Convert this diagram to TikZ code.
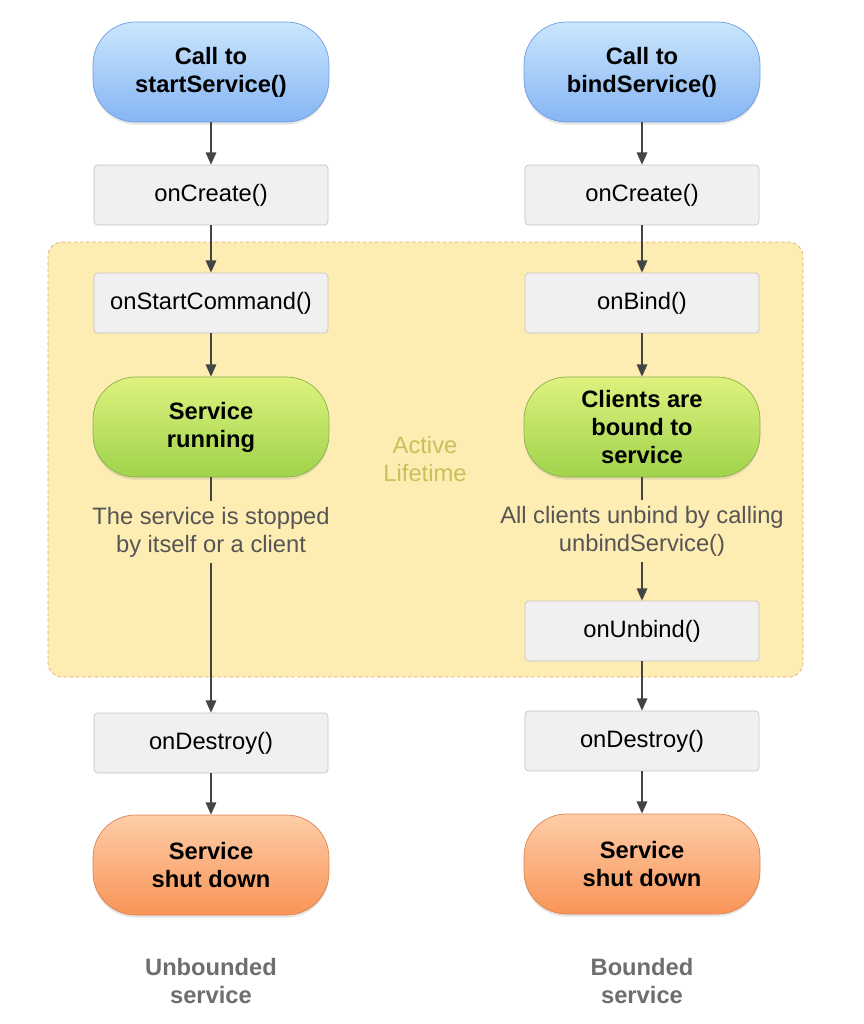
\documentclass[tikz,border=0pt]{standalone}
\usepackage{fontspec}
\setmainfont{Liberation Sans}
\usepackage{tikz}
\usetikzlibrary{arrows.meta, shadows}

\definecolor{arrowgray}{HTML}{444444}
\definecolor{boxfill}{HTML}{F0F0F0}
\definecolor{boxline}{HTML}{C4C4C4}
\definecolor{bluetop}{HTML}{C9E6FC}
\definecolor{bluebot}{HTML}{86B5F4}
\definecolor{blueline}{HTML}{6F9BE2}
\definecolor{greentop}{HTML}{DDF27E}
\definecolor{greenbot}{HTML}{A0D34B}
\definecolor{greenline}{HTML}{8AB04A}
\definecolor{orangetop}{HTML}{FDCDA8}
\definecolor{orangebot}{HTML}{F99456}
\definecolor{orangeline}{HTML}{DE8350}
\definecolor{lifefill}{HTML}{FEEDB3}
\definecolor{lifeline}{HTML}{E6A874}
\definecolor{lifetext}{HTML}{C9C05A}
\definecolor{notegray}{HTML}{555555}
\definecolor{labelgray}{HTML}{6E6E6E}

\begin{document}
\begin{tikzpicture}[x = 0.02cm, y = -0.02cm,
		font = \fontsize{13.5}{16}\selectfont,
		box/.style = {draw = boxline, fill = boxfill, rounded corners = 2pt,
			minimum width = 4.68cm, minimum height = 1.2cm},
		pill/.style = {rounded corners = 0.85cm, minimum width = 4.72cm, minimum height = 2cm,
			align = center, font = \fontsize{13.5}{16}\selectfont\bfseries,
			drop shadow = {opacity = 0.2, shadow xshift = 0pt, shadow yshift = -1.5pt}},
		callpill/.style = {pill, draw = blueline, top color = bluetop, bottom color = bluebot},
		runpill/.style = {pill, draw = greenline, top color = greentop, bottom color = greenbot},
		endpill/.style = {pill, draw = orangeline, top color = orangetop, bottom color = orangebot},
		flow/.style = {draw = arrowgray, line width = 0.9pt, -{Triangle[length = 7pt, width = 6pt]}},
		note/.style = {text = notegray, align = center},
		kind/.style = {text = labelgray, align = center, font = \fontsize{13.5}{16}\selectfont\bfseries}]
	\useasboundingbox (0,0) rectangle (864,1024);

	% active lifetime area
	\begin{scope}
		\draw [fill = lifefill, draw = lifeline, dash pattern = on 2pt off 1.5pt, rounded corners = 8pt]
			(48,242) rectangle (803,677);
		\node [text = lifetext, align = center] (active) at (425,459) {Active\\Lifetime};
	\end{scope}

	% unbounded service
	\begin{scope}
		\node [callpill] (callL) at (211,72) {Call to\\startService()};
		\node [box] (createL) at (211,195) {onCreate()};
		\node [box] (startL) at (211,303) {onStartCommand()};
		\node [runpill] (runL) at (211,427) {Service\\running};
		\node [note] (stopL) at (211,532) {The service is stopped\\by itself or a client};
		\node [box] (destroyL) at (211,743) {onDestroy()};
		\node [endpill] (downL) at (211,865) {Service\\shut down};
		\node [kind] (kindL) at (211,981) {Unbounded\\service};
	\end{scope}

	% bounded service
	\begin{scope}
		\node [callpill] (callR) at (642,72) {Call to\\bindService()};
		\node [box] (createR) at (642,195) {onCreate()};
		\node [box] (bindR) at (642,303) {onBind()};
		\node [runpill] (runR) at (642,427) {Clients are\\bound to\\service};
		\node [note] (stopR) at (642,531) {All clients unbind by calling\\unbindService()};
		\node [box] (unbindR) at (642,631) {onUnbind()};
		\node [box] (destroyR) at (642,741) {onDestroy()};
		\node [endpill] (downR) at (642,864) {Service\\shut down};
		\node [kind] (kindR) at (642,981) {Bounded\\service};
	\end{scope}

	\begin{scope}[flow]
		\draw (callL) -- (createL);
		\draw (createL) -- (startL);
		\draw (startL) -- (runL);
		\draw [-] (runL) -- (stopL);
		\draw (stopL) -- (destroyL);
		\draw (destroyL) -- (downL);

		\draw (callR) -- (createR);
		\draw (createR) -- (bindR);
		\draw (bindR) -- (runR);
		\draw [-] (runR) -- (stopR);
		\draw (stopR) -- (unbindR);
		\draw (unbindR) -- (destroyR);
		\draw (destroyR) -- (downR);
	\end{scope}
\end{tikzpicture}
\end{document}
